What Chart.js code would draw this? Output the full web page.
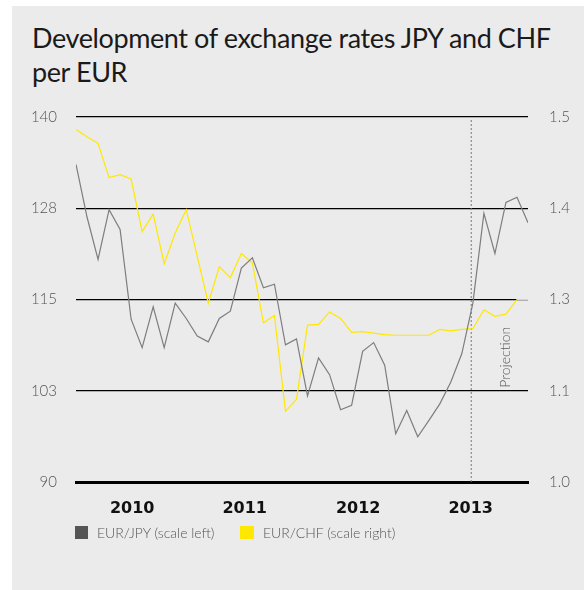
<!DOCTYPE html>
<html lang="en">
<head>
    <meta charset="UTF-8">
    <title>Development of exchange rates JPY and CHF per EUR</title>
    <style>
        body {
            margin: 0;
            background-color: #fff;
            width: 584px;
            height: 590px;
            overflow: hidden;
            position: relative;
            font-family: Lato, "Open Sans", sans-serif;
        }
        #panel {
            position: absolute;
            left: 12px;
            top: 6px;
            width: 572px;
            height: 584px;
            background-color: #ebebeb;
        }
        #title {
            position: absolute;
            left: 32px;
            top: 21px;
            font-size: 27px;
            letter-spacing: -0.4px;
            line-height: 34px;
            font-weight: 400;
            color: #1a1a1a;
            white-space: nowrap;
        }
        #chart {
            position: absolute;
            left: 0;
            top: 0;
        }
        .legend {
            position: absolute;
            top: 526px;
            font-size: 14px;
            font-weight: 300;
            color: #555;
            line-height: 13px;
            white-space: nowrap;
        }
        .legend .box {
            display: inline-block;
            width: 13px;
            height: 13px;
            vertical-align: top;
            margin-right: 9px;
        }
    </style>
    <script src="https://cdn.jsdelivr.net/npm/chart.js"></script>
</head>
<body>
    <div id="panel"></div>
    <div id="title">Development of exchange rates JPY and CHF<br>per EUR</div>
    <canvas id="chart" width="584" height="590"></canvas>
    <div class="legend" style="left:75px"><span class="box" style="background:#555"></span>EUR/JPY (scale left)</div>
    <div class="legend" style="left:240px"><span class="box" style="background:#ffe800;width:14px"></span>EUR/CHF (scale right)</div>
    <script>
        // EUR/JPY, left scale
        const jpyValues = [
            133.5, 126.3, 120.5, 127.3, 124.6, 112.3, 108.4, 114.0, 108.4, 114.5,
            112.4, 110.0, 109.2, 112.4, 113.4, 119.3, 120.7, 116.6, 117.1, 108.8,
            109.6, 101.8, 107.0, 104.7, 99.9, 100.5, 107.9, 109.1, 106.0, 96.6,
            99.8, 96.2, 98.4, 100.7, 103.7, 107.6, 114.5, 126.8, 121.3, 128.3,
            129.0, 125.5
        ];

        // EUR/CHF, right scale
        const chfValues = [
            1.483, 1.473, 1.464, 1.417, 1.421, 1.415, 1.343, 1.367, 1.299, 1.341,
            1.373, 1.309, 1.245, 1.295, 1.280, 1.313, 1.300, 1.218, 1.228, 1.097,
            1.113, 1.215, 1.216, 1.233, 1.224, 1.205, 1.206, 1.204, 1.202, 1.201,
            1.201, 1.201, 1.201, 1.209, 1.207, 1.209, 1.210, 1.236, 1.227, 1.230,
            1.250, 1.250
        ];

        // year labels and where they sit along the series
        const yearLabels = ['2010', '2011', '2012', '2013'];
        const yearPositions = [5.1, 15.3, 25.6, 35.8];
        const projectionAt = 35.85;

        const leftTicks = { min: 90, max: 140, step: 12.5 };
        const rightTicks = { min: 1.0, max: 1.5, step: 0.125 };

        const tickFont = { family: 'Lato', size: 15, weight: '300' };

        // draws the rotated "Projection" note next to the dashed line
        const projectionLabel = {
            id: 'projectionLabel',
            afterDatasetsDraw(chart) {
                const ctx = chart.ctx;
                const x = chart.scales.x.getPixelForValue(projectionAt);
                const y = chart.scales.y.getPixelForValue(102.5);
                ctx.save();
                ctx.translate(x + 39, y - 3);
                ctx.rotate(-Math.PI / 2);
                ctx.font = '300 14px Lato';
                ctx.fillStyle = '#555';
                ctx.textAlign = 'left';
                ctx.textBaseline = 'alphabetic';
                ctx.fillText('Projection', 0, 0);
                ctx.restore();
            }
        };

        const ctx = document.getElementById('chart').getContext('2d');
        new Chart(ctx, {
            type: 'line',
            data: {
                datasets: [
                    {
                        label: 'EUR/JPY (scale left)',
                        data: jpyValues.map((v, i) => ({ x: i, y: v })),
                        borderColor: '#7d7d7d',
                        borderWidth: 1.2,
                        pointRadius: 0,
                        tension: 0,
                        yAxisID: 'y'
                    },
                    {
                        label: 'EUR/CHF (scale right)',
                        data: chfValues.map((v, i) => ({ x: i, y: v })),
                        borderColor: '#ffe800',
                        borderWidth: 1.2,
                        pointRadius: 0,
                        tension: 0,
                        yAxisID: 'y2'
                    },
                    {
                        label: 'Projection',
                        data: [{ x: projectionAt, y: leftTicks.min }, { x: projectionAt, y: 139.7 }],
                        borderColor: '#777',
                        borderWidth: 1,
                        borderDash: [2, 2],
                        pointRadius: 0,
                        yAxisID: 'y'
                    }
                ]
            },
            options: {
                responsive: false,
                animation: false,
                layout: { padding: { top: 117, bottom: 68, left: 0, right: 0 } },
                plugins: {
                    legend: { display: false },
                    tooltip: { enabled: false }
                },
                scales: {
                    x: {
                        type: 'linear',
                        min: 0,
                        max: jpyValues.length - 1,
                        grid: { display: false, drawTicks: false },
                        border: { display: true, color: '#000', width: 3 },
                        afterBuildTicks: (scale) => {
                            scale.ticks = yearPositions.map(v => ({ value: v }));
                        },
                        afterFit: (scale) => { scale.height = 40; },
                        ticks: {
                            autoSkip: false,
                            maxRotation: 0,
                            padding: 17,
                            color: '#111',
                            font: { family: 'DejaVu Sans', size: 16, weight: 'bold' },
                            callback: (value) => yearLabels[yearPositions.indexOf(value)]
                        }
                    },
                    y: {
                        position: 'left',
                        min: leftTicks.min,
                        max: leftTicks.max,
                        grid: { color: '#000', lineWidth: 1.3, drawTicks: false },
                        border: { display: false },
                        afterFit: (scale) => { scale.width = 76; },
                        ticks: {
                            stepSize: leftTicks.step,
                            padding: 19,
                            color: '#555',
                            font: tickFont,
                            callback: (value) => Math.round(value)
                        }
                    },
                    y2: {
                        position: 'right',
                        min: rightTicks.min,
                        max: rightTicks.max,
                        grid: { display: false, drawTicks: false },
                        border: { display: false },
                        afterFit: (scale) => { scale.width = 56; },
                        ticks: {
                            stepSize: rightTicks.step,
                            padding: 21,
                            color: '#555',
                            font: tickFont,
                            callback: (value) => value.toFixed(1)
                        }
                    }
                }
            },
            plugins: [projectionLabel]
        });
    </script>
</body>
</html>
